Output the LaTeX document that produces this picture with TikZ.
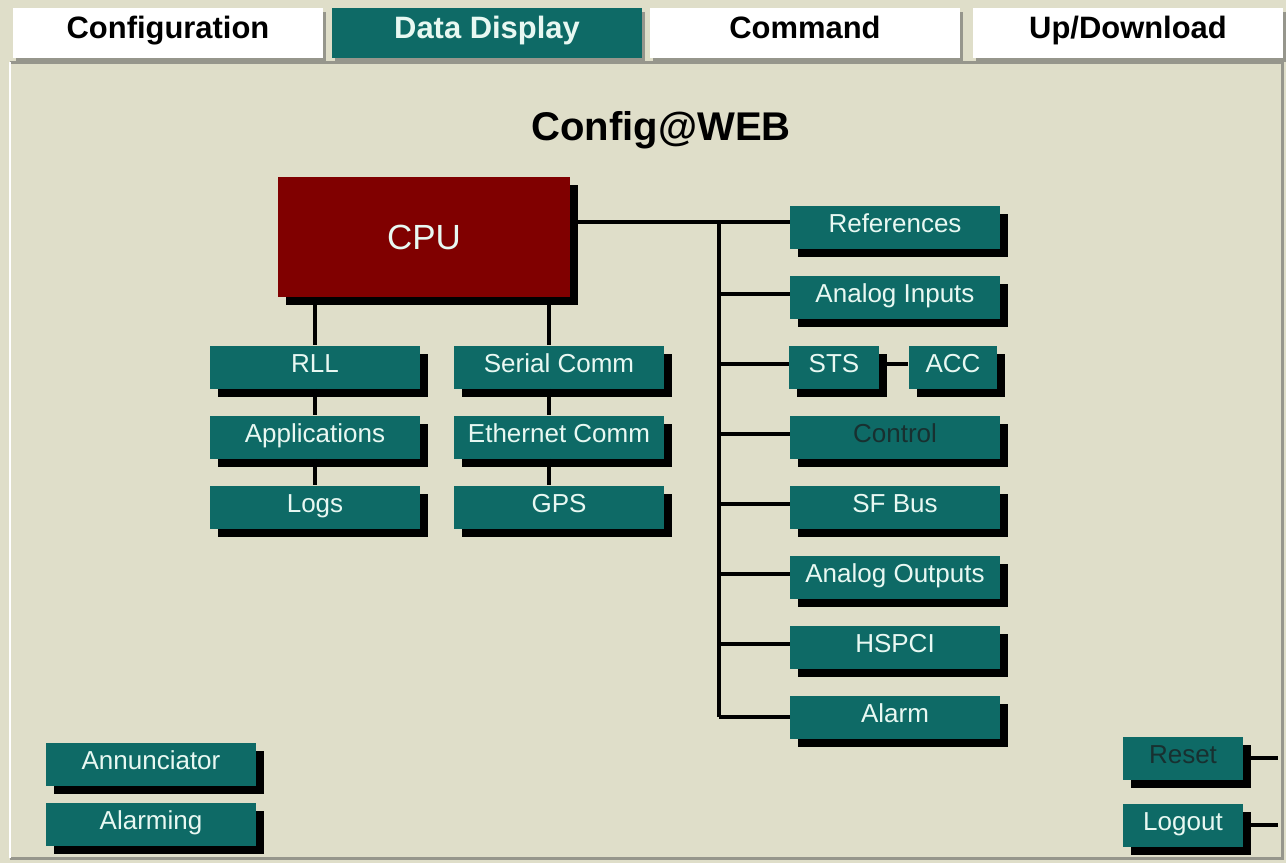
\documentclass[tikz,border=0pt]{standalone}
\usepackage{fontspec}
\setmainfont{Liberation Sans}
\usetikzlibrary{calc,shadows}
\definecolor{mybeige}{RGB}{223,222,201}
\definecolor{myteal}{RGB}{14,106,102}
\definecolor{mycpu}{RGB}{128,0,0}
\definecolor{mylabel}{RGB}{232,248,242}
\definecolor{mydim}{RGB}{24,48,48}
\definecolor{myframe}{RGB}{150,150,140}
\tikzstyle{module}=[fill=myteal,text=mylabel,minimum width=4.2cm,minimum height=0.86cm,inner sep=0pt,text height=1.4ex,text depth=0.3ex,drop shadow={fill=black,opacity=1,shadow xshift=0.16cm,shadow yshift=-0.16cm},font=\fontsize{14.8}{16}\selectfont]
\tikzstyle{tab}=[fill=white,minimum width=6.2cm,minimum height=1.0cm,inner sep=0pt,text height=1.4ex,text depth=0.3ex,drop shadow={fill=myframe,opacity=1,shadow xshift=0.06cm,shadow yshift=-0.08cm},font=\fontsize{17.6}{19}\selectfont\bfseries]
\tikzstyle{wire}=[line width=2.2pt]

\begin{document}
\begin{tikzpicture}[x=0.02cm,y=-0.02cm]
\useasboundingbox[fill=mybeige] (0,0) rectangle (1286,863);
% frame under the tabs
\draw[myframe,line width=0.06cm] (10,62) -- (1282,62) -- (1282,858) -- (10,858);
\draw[white,line width=0.04cm] (10,62) -- (10,858);
% tabs
\draw (168,33) node [tab] (t1) {Configuration};
\draw (487,33) node [tab,fill=myteal,text=mylabel] (t2) {Data Display};
\draw (805,33) node [tab] (t3) {Command};
\draw (1128,33) node [tab] (t4) {Up/Download};
\draw (661,140) node [anchor=base,font=\fontsize{22.8}{25}\selectfont\bfseries] (title) {Config@WEB};
% cpu
\draw (424,237) node [module,minimum width=5.84cm,minimum height=2.4cm,fill=mycpu,text height=14.2pt,text depth=0pt,font=\fontsize{19.9}{22}\selectfont] (cpu) {CPU};
% left columns
\draw (315,367) node [module] (rll) {RLL};
\draw (315,437) node [module] (app) {Applications};
\draw (315,507) node [module] (logs) {Logs};
\draw (559,367) node [module] (ser) {Serial Comm};
\draw (559,437) node [module] (eth) {Ethernet Comm};
\draw (559,507) node [module] (gps) {GPS};
% right column
\draw (895,227) node [module] (ref) {References};
\draw (895,297) node [module] (ain) {Analog Inputs};
\draw (834,367) node [module,minimum width=1.8cm] (sts) {STS};
\draw (953,367) node [module,minimum width=1.78cm] (acc) {ACC};
\draw (895,437) node [module,text=mydim] (ctl) {Control};
\draw (895,507) node [module] (sfb) {SF Bus};
\draw (895,577) node [module] (aout) {Analog Outputs};
\draw (895,647) node [module] (hsp) {HSPCI};
\draw (895,717) node [module] (alm) {Alarm};
% bottom buttons
\draw (151,764) node [module] (ann) {Annunciator};
\draw (151,824) node [module] (alg) {Alarming};
\draw (1183,758) node [module,minimum width=2.4cm,text=mydim] (reset) {Reset};
\draw (1183,825) node [module,minimum width=2.4cm] (logout) {Logout};
\coordinate (bus) at (719,222);
\coordinate (rsend) at (1278,758);
\coordinate (loend) at (1278,825);
% connectors
\draw[wire] ([yshift=0.3cm]cpu.east) -- ([yshift=0.3cm]cpu.east -| ref.west);
\draw[wire] (bus) -- (bus |- alm.west);
\draw[wire] ([yshift=0.06cm]bus |- ain.west) -- ([yshift=0.06cm]ain.west);
\draw[wire] ([yshift=0.06cm]bus |- sts.west) -- ([yshift=0.06cm]sts.west);
\draw[wire] ([yshift=0.06cm]bus |- ctl.west) -- ([yshift=0.06cm]ctl.west);
\draw[wire] ([yshift=0.06cm]bus |- sfb.west) -- ([yshift=0.06cm]sfb.west);
\draw[wire] ([yshift=0.06cm]bus |- aout.west) -- ([yshift=0.06cm]aout.west);
\draw[wire] ([yshift=0.06cm]bus |- hsp.west) -- ([yshift=0.06cm]hsp.west);
\draw[wire] (bus |- alm.west) -- (alm.west);
\draw[wire] ([yshift=0.06cm]sts.east) -- ([yshift=0.06cm]acc.west);
\draw[wire] (rll.north |- cpu.south) -- (rll.north);
\draw[wire] (rll) -- (app);
\draw[wire] (app) -- (logs);
\draw[wire] ([xshift=-0.2cm]ser.north |- cpu.south) -- ([xshift=-0.2cm]ser.north);
\draw[wire] ([xshift=-0.2cm]ser.south) -- ([xshift=-0.2cm]eth.north);
\draw[wire] ([xshift=-0.2cm]eth.south) -- ([xshift=-0.2cm]gps.north);
\draw[wire] (reset.east) -- (rsend);
\draw[wire] (logout.east) -- (loend);
\end{tikzpicture}
\end{document}
